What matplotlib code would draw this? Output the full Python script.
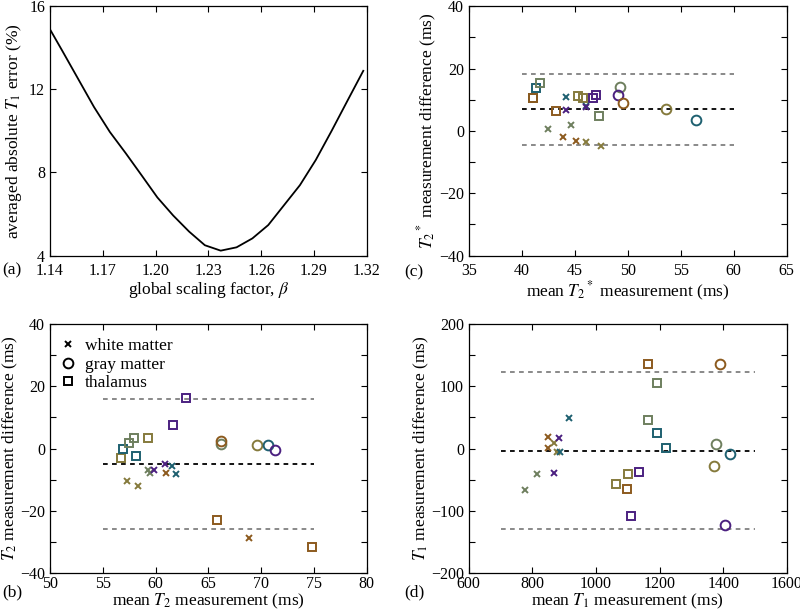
import numpy as np
import matplotlib
matplotlib.use("Agg")
import matplotlib.pyplot as plt
from matplotlib.lines import Line2D

plt.rcParams["font.family"] = ["Liberation Serif", "DejaVu Serif"]
plt.rcParams["mathtext.fontset"] = "stix"
plt.rcParams["axes.unicode_minus"] = True

# subject colours
COLORS = {
    "teal": "#1E6070",
    "sage": "#6E7F5E",
    "purple": "#4B2080",
    "brown": "#8C5A1E",
    "olive": "#857A3C",
}

# (a) averaged absolute T1 error vs global scaling factor
beta = [1.138, 1.147, 1.156, 1.165, 1.174, 1.183, 1.192, 1.201, 1.210, 1.219, 1.228,
        1.237, 1.246, 1.255, 1.264, 1.273, 1.282, 1.291, 1.300, 1.309, 1.318]
t1_err = [15.18, 13.85, 12.5, 11.15, 9.95, 8.93, 7.87, 6.8, 5.93, 5.16, 4.5,
          4.24, 4.40, 4.83, 5.47, 6.43, 7.39, 8.6, 10.0, 11.45, 12.89]

# (c) T2* Bland-Altman
t2s_wm_x = [44.2, 44.2, 46.1, 46.1, 42.5, 44.6, 43.9, 45.1, 46.1, 47.5]
t2s_wm_y = [11.0, 6.8, 7.9, 7.7, 0.6, 2.0, -1.9, -3.1, -3.4, -5.0]
t2s_wm_c = ["teal", "purple", "teal", "purple", "sage", "sage", "brown", "brown", "olive", "olive"]
t2s_gm_x = [49.25, 49.1, 49.5, 53.6, 56.4]
t2s_gm_y = [14.1, 11.6, 9.1, 6.9, 3.5]
t2s_gm_c = ["sage", "purple", "brown", "olive", "teal"]
t2s_th_x = [41.05, 41.1, 41.32, 41.73, 43.27, 45.31, 45.75, 46.7, 47.0, 47.33]
t2s_th_y = [10.5, 10.4, 13.8, 15.3, 6.5, 11.1, 10.5, 10.4, 11.5, 4.7]
t2s_th_c = ["teal", "brown", "teal", "sage", "brown", "olive", "olive", "purple", "purple", "sage"]
t2s_lines = [6.9, 18.2, -4.5]  # mean, upper, lower
t2s_range = [40, 60]

# (b) T2 Bland-Altman
t2_wm_x = [57.31, 58.29, 59.27, 59.5, 59.86, 60.87, 60.94, 61.57, 61.9, 68.85]
t2_wm_y = [-10.3, -11.9, -6.8, -7.7, -6.8, -5.1, -7.7, -5.5, -8.3, -28.7]
t2_wm_c = ["olive", "olive", "sage", "sage", "purple", "purple", "brown", "teal", "teal", "brown"]
t2_gm_x = [66.17, 66.17, 69.6, 70.67, 71.3]
t2_gm_y = [1.6, 2.5, 1.0, 1.1, -0.5]
t2_gm_c = ["sage", "brown", "olive", "teal", "purple"]
t2_th_x = [62.89, 61.69, 56.68, 56.9, 57.5, 57.91, 58.16, 59.27, 65.79, 74.8]
t2_th_y = [16.1, 7.7, -3.1, -0.1, 1.8, 3.3, -2.4, 3.4, -22.9, -31.6]
t2_th_c = ["purple", "purple", "olive", "teal", "sage", "sage", "teal", "olive", "brown", "brown"]
t2_lines = [-4.9, 16.0, -25.7]
t2_range = [55, 75]

# (d) T1 Bland-Altman
t1_wm_x = [915, 849, 848, 868, 885, 877, 888, 867, 814, 776]
t1_wm_y = [48.8, 18.8, 1.6, 9.1, 16.6, -5.9, -5.9, -38.6, -40.2, -66]
t1_wm_c = ["teal", "brown", "brown", "olive", "purple", "olive", "teal", "purple", "sage", "sage"]
t1_gm_x = [1391, 1378, 1372, 1421, 1406]
t1_gm_y = [135.7, 7.0, -27.3, -8.6, -122.3]
t1_gm_c = ["brown", "sage", "olive", "teal", "purple"]
t1_th_x = [1164, 1192, 1162, 1192, 1219, 1063, 1101, 1096, 1135, 1109]
t1_th_y = [136.7, 104.6, 45.6, 25.2, 1.6, -57.4, -41.3, -64.9, -37.5, -108.3]
t1_th_c = ["brown", "sage", "sage", "teal", "teal", "olive", "olive", "brown", "purple", "purple"]
t1_lines = [-3.2, 123.3, -129.8]
t1_range = [700, 1500]

TICK_FS = 11.5
LABEL_FS = 12.5
DASH = (0, (2.6, 2.4))
MS = {"s": 6.0, "o": 7.0, "x": 4.6}


def style_axes(ax, xpad):
    ax.tick_params(direction="in", top=True, right=True, length=4, width=0.8,
                   labelsize=TICK_FS)
    ax.tick_params(axis="x", pad=xpad)
    ax.tick_params(axis="y", pad=3.5)
    ax.tick_params(which="minor", direction="in", top=True, right=True, length=4, width=0.8)
    for s in ax.spines.values():
        s.set_linewidth(0.9)


def bland_altman(ax, wm, gm, th, lines, xr):
    mean, up, lo = lines
    ax.plot(xr, [up, up], color="#808080", lw=1.3, linestyle=DASH)
    ax.plot(xr, [lo, lo], color="#808080", lw=1.3, linestyle=DASH)
    ax.plot(xr, [mean, mean], color="black", lw=1.3, linestyle=DASH)
    for (xs, ys, cs), mk in [(th, "s"), (gm, "o"), (wm, "x")]:
        for x, y, c in zip(xs, ys, cs):
            ax.plot(x, y, marker=mk, ms=MS[mk], mfc="none", mec=COLORS[c], mew=1.4,
                    linestyle="none")


fig = plt.figure(figsize=(8.0, 6.16), dpi=100)
ax_a = fig.add_axes([0.0625, 0.585, 0.396, 0.405])
ax_c = fig.add_axes([0.586, 0.585, 0.3975, 0.405])
ax_b = fig.add_axes([0.0625, 0.0698, 0.396, 0.404])
ax_d = fig.add_axes([0.586, 0.0698, 0.3975, 0.404])

# (a)
ax_a.plot(beta, t1_err, color="black", lw=1.3)
ax_a.set_xlim(1.14, 1.32)
ax_a.set_ylim(4, 16)
ax_a.set_xticks([1.14, 1.17, 1.20, 1.23, 1.26, 1.29, 1.32])
ax_a.set_xticklabels(["1.14", "1.17", "1.20", "1.23", "1.26", "1.29", "1.32"])
ax_a.set_yticks([4, 8, 12, 16])
ax_a.set_xlabel(r"global scaling factor, $\beta$", fontsize=LABEL_FS, labelpad=1)
ax_a.set_ylabel(r"averaged absolute $T_1$ error (%)", fontsize=LABEL_FS, labelpad=4)
style_axes(ax_a, 5)

# (c)
bland_altman(ax_c, (t2s_wm_x, t2s_wm_y, t2s_wm_c), (t2s_gm_x, t2s_gm_y, t2s_gm_c),
             (t2s_th_x, t2s_th_y, t2s_th_c), t2s_lines, t2s_range)
ax_c.set_xlim(35, 65)
ax_c.set_ylim(-40, 40)
ax_c.set_xticks(np.arange(35, 66, 5))
ax_c.set_yticks([-40, -20, 0, 20, 40])
ax_c.set_yticks([-30, -10, 10, 30], minor=True)
ax_c.set_xlabel(r"mean $T_2{}^*$ measurement (ms)", fontsize=LABEL_FS, labelpad=1)
ax_c.set_ylabel(r"$T_2{}^*$ measurement difference (ms)", fontsize=LABEL_FS, labelpad=0)
style_axes(ax_c, 5)

# (b)
bland_altman(ax_b, (t2_wm_x, t2_wm_y, t2_wm_c), (t2_gm_x, t2_gm_y, t2_gm_c),
             (t2_th_x, t2_th_y, t2_th_c), t2_lines, t2_range)
ax_b.set_xlim(50, 80)
ax_b.set_ylim(-40, 40)
ax_b.set_xticks(np.arange(50, 81, 5))
ax_b.set_yticks([-40, -20, 0, 20, 40])
ax_b.set_yticks([-30, -10, 10, 30], minor=True)
ax_b.set_xlabel(r"mean $T_2$ measurement (ms)", fontsize=LABEL_FS, labelpad=0)
ax_b.set_ylabel(r"$T_2$ measurement difference (ms)", fontsize=LABEL_FS, labelpad=0)
style_axes(ax_b, 2)
handles = [
    Line2D([], [], marker=m, ms=MS[m], mfc="none", mec="black", mew=1.4, linestyle="none")
    for m in ["x", "o", "s"]
]
ax_b.legend(handles, ["white matter", "gray matter", "thalamus"], loc="upper left",
            bbox_to_anchor=(0.0, 0.985), frameon=False, fontsize=LABEL_FS,
            handlelength=0.9, handletextpad=0.5, labelspacing=0.12,
            borderaxespad=0.3, borderpad=0.3)

# (d)
bland_altman(ax_d, (t1_wm_x, t1_wm_y, t1_wm_c), (t1_gm_x, t1_gm_y, t1_gm_c),
             (t1_th_x, t1_th_y, t1_th_c), t1_lines, t1_range)
ax_d.set_xlim(600, 1600)
ax_d.set_ylim(-200, 200)
ax_d.set_xticks(np.arange(600, 1601, 200))
ax_d.set_yticks([-200, -100, 0, 100, 200])
ax_d.set_yticks([-150, -50, 50, 150], minor=True)
ax_d.set_xlabel(r"mean $T_1$ measurement (ms)", fontsize=LABEL_FS, labelpad=0)
ax_d.set_ylabel(r"$T_1$ measurement difference (ms)", fontsize=LABEL_FS, labelpad=0)
style_axes(ax_d, 2)

# panel letters
for lab, (px, py) in {"(a)": (2, 270), "(c)": (404, 272), "(b)": (2, 592), "(d)": (404, 592)}.items():
    fig.text(px / 800, 1 - py / 616, lab, fontsize=LABEL_FS, ha="left", va="center")

fig.savefig("out.png", dpi=100)
